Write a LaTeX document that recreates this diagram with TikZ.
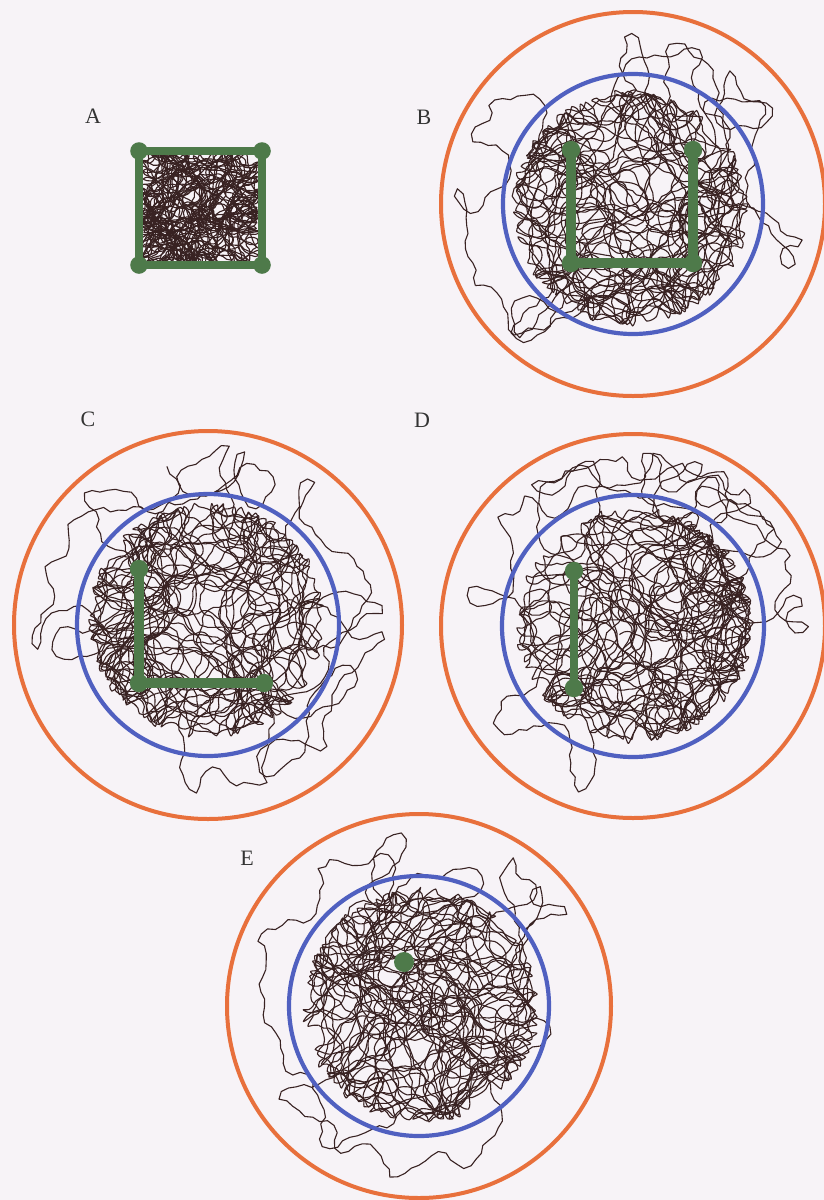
\documentclass[tikz,border=0pt]{standalone}
\usepackage{fontspec}
\setmainfont{Liberation Serif}
\definecolor{bg}{HTML}{F7F3F7}
\definecolor{ring}{HTML}{E8703C}
\definecolor{zone}{HTML}{5060C0}
\definecolor{objc}{HTML}{4E7A4A}
\definecolor{track}{HTML}{382222}

\newcount\wcnt
\newcount\wchunk
\def\wpull{0.7}
\def\wjit{0.6}
\def\wplot{smooth,tension=0.5}
\def\wmetric{veclen(\wdx/\wa,\wdy/\wb)}
\def\wstep{%
  \pgfmathsetmacro\wdx{\wX-\wcx}%
  \pgfmathsetmacro\wdy{\wY-\wcy}%
  \pgfmathsetmacro\wdist{\wmetric}%
  \pgfmathsetmacro\wH{\wH+\wturn*rand}%
  \ifdim\wdist pt>1pt
    \pgfmathsetmacro\wT{atan2(\wcy+\wjit*rand*\wb-\wY,\wcx+\wjit*rand*\wa-\wX)}%
    \pgfmathsetmacro\wH{(\wH)+\wpull*(Mod(\wT-(\wH)+540,360)-180)}%
  \fi
  \pgfmathsetmacro\wH{Mod(\wH,360)}%
  \pgfmathsetmacro\wX{\wX+\wsl*cos(\wH)}%
  \pgfmathsetmacro\wY{\wY+\wsl*sin(\wH)}%
}
\def\wflush{\edef\wcmd{\noexpand\draw[trk] plot[\wplot] coordinates {\wpts};}\wcmd}
% cx cy a b steps seed steplen turn
\def\walk#1#2#3#4#5#6#7#8{%
  \def\wcx{#1}\def\wcy{#2}\def\wa{#3}\def\wb{#4}%
  \def\wsl{#7}\def\wturn{#8}%
  \pgfmathsetseed{#6}%
  \pgfmathsetmacro\wX{#1+0.3*rand*#3}%
  \pgfmathsetmacro\wY{#2+0.3*rand*#4}%
  \pgfmathsetmacro\wH{rnd*360}%
  \edef\wpts{(\wX,\wY)}%
  \wcnt=0 \wchunk=0
  \loop
    \wstep
    \edef\wpts{\wpts (\wX,\wY)}%
    \advance\wcnt by 1 \advance\wchunk by 1
    \ifnum\wchunk=60
      \wflush
      \edef\wpts{(\wX,\wY)}%
      \wchunk=0
    \fi
  \ifnum\wcnt<#5 \repeat
  \ifnum\wchunk>0 \wflush\fi
}
% main dense walk + jagged excursions
\def\arena#1#2#3{% cx cy seed
  \def\wpull{0.7}\def\wplot{smooth,tension=0.5}%
  \walk{#1}{#2}{114}{114}{3400}{#3}{5.5}{38}%
  \def\wpull{0.45}\def\wplot{sharp plot}%
  \walk{#1}{#2}{168}{168}{480}{#3+1}{8}{50}%
}

\begin{document}
\begin{tikzpicture}[x=0.5pt,y=-0.5pt,
  trk/.style={draw=track,line width=0.55pt,line join=round},
  outerring/.style={draw=ring,line width=2pt},
  innerring/.style={draw=zone,line width=2.1pt},
  objline/.style={draw=objc,line width=4pt},
  objdot/.style={fill=objc,draw=none},
  lab/.style={font=\fontsize{11}{13}\selectfont,text=black!80}]

\fill[bg] (0,0) rectangle (824,1200);
\useasboundingbox (0,0) rectangle (824,1200);

% centres
\coordinate (cB) at (633,204);
\coordinate (cC) at (208,625);
\coordinate (cD) at (633,626);
\coordinate (cE) at (419,1006);

% ---------- tracks ----------
% A (square arena)
\begin{scope}
  \clip (143,155) rectangle (258,261);
  \def\wmetric{max(abs(\wdx)/\wa,abs(\wdy)/\wb)}%
  \def\wpull{0.8}%
  \walk{200}{208}{56}{52}{3600}{11}{4}{40}
  \def\wmetric{veclen(\wdx/\wa,\wdy/\wb)}%
\end{scope}
% B, C, D, E
\arena{630}{208}{21}
\arena{207}{620}{31}
\arena{635}{625}{41}
\arena{421}{1005}{51}

% ---------- rings ----------
\draw[outerring] (cB) circle[radius=96pt];
\draw[innerring] (cB) circle[radius=65pt];
\draw[outerring] (cC) circle[radius=97pt];
\draw[innerring] (cC) circle[radius=65.5pt];
\draw[outerring] (cD) circle[radius=96pt];
\draw[innerring] (cD) circle[radius=65.5pt];
\draw[outerring] (cE) circle[radius=96pt];
\draw[innerring] (cE) circle[radius=65pt];

% ---------- objects ----------
% A
\coordinate (a1) at (139,151);
\coordinate (a2) at (262,151);
\coordinate (a3) at (262,265);
\coordinate (a4) at (139,265);
\draw[objline] (a1) -- (a2) -- (a3) -- (a4) -- cycle;
\foreach \p in {a1,a2,a3,a4} \fill[objdot] (\p) circle[radius=4.4pt];
% B
\coordinate (b1) at (571,150);
\coordinate (b2) at (571,263);
\coordinate (b3) at (693,263);
\coordinate (b4) at (693,150);
\draw[objline,line width=4.6pt] (b1) -- (b2) -- (b3) -- (b4);
\foreach \p in {b1,b2,b3,b4} \fill[objdot] (\p) circle[radius=4.6pt];
% C
\coordinate (c1) at (139,569);
\coordinate (c2) at (139,683);
\coordinate (c3) at (264,683);
\draw[objline,line width=4.6pt] (c1) -- (c2) -- (c3);
\foreach \p in {c1,c2,c3} \fill[objdot] (\p) circle[radius=4.6pt];
% D
\coordinate (d1) at (574,571);
\coordinate (d2) at (574,688);
\draw[objline,line width=4.2pt] (d1) -- (d2);
\foreach \p in {d1,d2} \fill[objdot] (\p) circle[radius=4.6pt];
% E
\coordinate (e1) at (404,962);
\fill[objdot] (e1) circle[radius=5pt];

% ---------- labels ----------
\node[lab] (labA) at (93,116) {A};
\node[lab] (labB) at (424,117) {B};
\node[lab] (labC) at (88,419) {C};
\node[lab] (labD) at (422,420) {D};
\node[lab] (labE) at (247,858) {E};
\end{tikzpicture}
\end{document}
